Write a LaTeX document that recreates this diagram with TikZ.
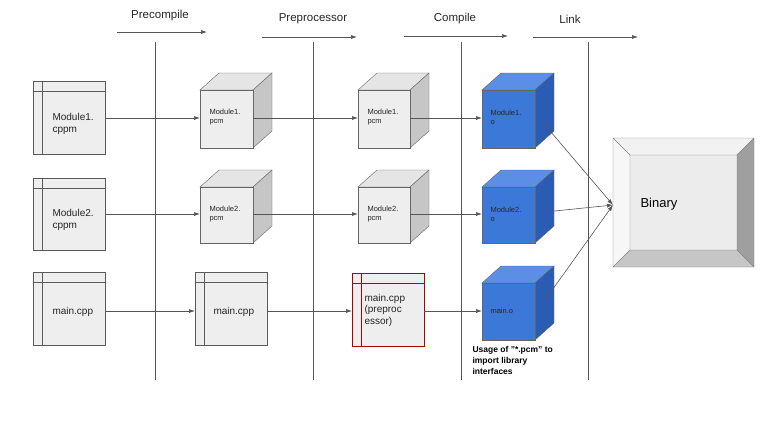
\documentclass[tikz,border=0pt]{standalone}
\usepackage{fontspec}
\setmainfont{Liberation Sans}
\usetikzlibrary{arrows.meta}
\definecolor{bx}{HTML}{EEEEEE}
\definecolor{ln}{HTML}{555555}
\definecolor{bl}{HTML}{3C78D8}
\definecolor{bld}{HTML}{2A5CB5}
\definecolor{blt}{HTML}{5B8FE6}
\tikzset{
 arr/.style={draw=ln,-{Latex[length=6pt,width=4pt]},line width=0.6pt},
 vline/.style={draw=ln,line width=0.6pt},
 lbl/.style={font=\fontsize{10}{11.5}\selectfont,align=left,anchor=west,text=black!85},
 sm/.style={font=\fontsize{7.5}{9}\selectfont,align=left,anchor=west,text=black!85},
 hd/.style={font=\fontsize{11.5}{12}\selectfont,text=black!85}
}
\newcommand{\docbox}[5]{%
 \fill[bx] (#2,#3) rectangle ++(#4,#5);
 \draw[#1!70!black] (#2,#3) rectangle ++(#4,#5);
 \draw[#1!70!black] (#2,#3+10) -- ++(#4,0) (#2+9,#3) -- ++(0,#5);
}
\newcommand{\cube}[7]{% x y w h front top side
 \fill[#6,draw=gray!80!black] (#1,#2) -- (#1+19,#2-17) -- (#1+#3+19,#2-17) -- (#1+#3,#2) -- cycle;
 \fill[#7,draw=gray!80!black] (#1+#3,#2) -- (#1+#3+19,#2-17) -- (#1+#3+19,#2+#4-17) -- (#1+#3,#2+#4) -- cycle;
 \fill[#5,draw=gray!80!black] (#1,#2) rectangle ++(#3,#4);
}
\begin{document}
\begin{tikzpicture}[x=1pt,y=-1pt]
\useasboundingbox (0,0) rectangle (768,434);
\node[hd] (h1) at (160,16) {Precompile};
\node[hd] (h2) at (313,19) {Preprocessor};
\node[hd] (h3) at (455,19) {Compile};
\node[hd] (h4) at (570,19) {Link};
\coordinate (a1) at (117,32); \coordinate (b1) at (207,32);
\coordinate (a2) at (262,37); \coordinate (b2) at (357,37);
\coordinate (a3) at (404,36); \coordinate (b3) at (508,36);
\coordinate (a4) at (533,37); \coordinate (b4) at (638,37);
\foreach \i in {1,2,3,4} \draw[arr] (a\i) -- (b\i);
\foreach \x in {155,313,461,588} \draw[vline] (\x,42) -- (\x,380);
% column 1
\docbox{gray}{33}{81}{72}{73}
\docbox{gray}{33}{178}{72}{72}
\docbox{gray}{33}{272}{72}{73}
\node[lbl] (m1) at (49,124) {Module1.\\cppm};
\node[lbl] (m2) at (49,220) {Module2.\\cppm};
\node[lbl] (m3) at (49,312) {main.cpp};
% column 2
\cube{200}{90}{53}{58}{bx}{gray!20}{gray!45}
\cube{200}{187}{53}{56}{bx}{gray!20}{gray!45}
\docbox{gray}{195}{272}{72}{73}
\node[sm] (p1) at (206,117) {Module1.\\pcm};
\node[sm] (p2) at (206,214) {Module2.\\pcm};
\node[lbl] (p3) at (210,312) {main.cpp};
% column 3
\cube{358}{90}{52}{58}{bx}{gray!20}{gray!45}
\cube{358}{187}{52}{56}{bx}{gray!20}{gray!45}
\docbox{red}{352}{273}{72}{73}
\node[lbl] (q3) at (361,310) {main.cpp\\(preproc\\essor)};
\node[sm] (q1) at (364,117) {Module1.\\pcm};
\node[sm] (q2) at (364,214) {Module2.\\pcm};
% column 4
\cube{482}{90}{53}{58}{bl}{blt}{bld}
\cube{482}{187}{53}{56}{bl}{blt}{bld}
\cube{482}{283}{53}{57}{bl}{blt}{bld}
\node[sm] (o1) at (487,117) {Module1.\\o};
\node[sm] (o2) at (487,214) {Module2.\\o};
\node[sm] (o3) at (487,311) {main.o};
\node[font=\bfseries\fontsize{8.5}{11}\selectfont,align=left,anchor=north west] (u) at (469,343) {Usage of "*.pcm" to\\import library\\interfaces};
% binary
\fill[gray!15] (613,138) rectangle (754,267);
\fill[gray!10] (613,138) -- (754,138) -- (737,155) -- (630,155) -- cycle;
\fill[gray!6] (613,138) -- (630,155) -- (630,250) -- (613,267) -- cycle;
\fill[gray!75] (754,138) -- (737,155) -- (737,250) -- (754,267) -- cycle;
\fill[gray!45] (613,267) -- (630,250) -- (737,250) -- (754,267) -- cycle;
\draw[gray] (613,138) rectangle (754,267) (630,155) rectangle (737,250)
 (613,138) -- (630,155) (754,138) -- (737,155) (613,267) -- (630,250) (754,267) -- (737,250);
\node[font=\fontsize{13}{14}\selectfont,anchor=west] (bin) at (637,204) {Binary};
\coordinate (bi) at (613,205);
% arrows
\foreach \y in {118,214}{
 \draw[arr] (105,\y) -- (200,\y);
 \draw[arr] (253,\y) -- (358,\y);
 \draw[arr] (410,\y) -- (482,\y);
}
\draw[arr] (105,311) -- (195,311);
\draw[arr] (267,311) -- (352,311);
\draw[arr] (424,311) -- (482,311);
\draw[arr] (545,125) -- (bi);
\draw[arr] (545,212) -- (bi);
\draw[arr] (545,300) -- (bi);
\end{tikzpicture}
\end{document}
